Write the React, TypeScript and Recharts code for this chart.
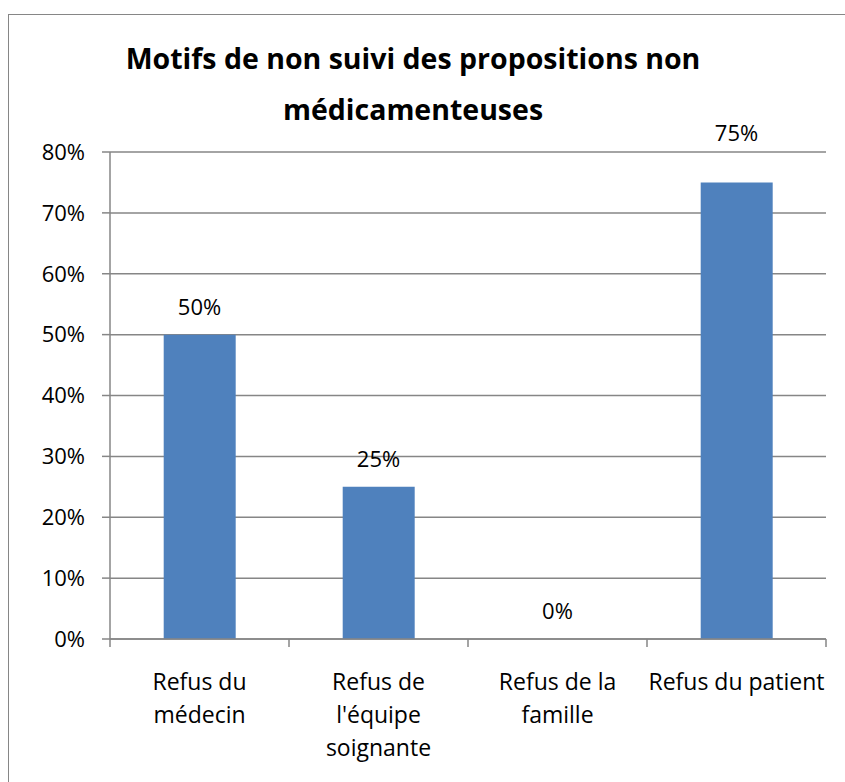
import React from 'react';
import {
  ComposedChart,
  Bar,
  Line,
  XAxis,
  YAxis,
  CartesianGrid,
  LabelList,
} from 'recharts';

// chart data
const CATEGORIES = ['Refus du médecin', "Refus de l'équipe soignante", 'Refus de la famille', 'Refus du patient'];
const CATEGORY_LINES = [['Refus du', 'médecin'], ['Refus de', "l'équipe", 'soignante'], ['Refus de la', 'famille'], ['Refus du patient']];
const VALUES = [50, 25, 0, 75];
const Y_TICKS = [0, 10, 20, 30, 40, 50, 60, 70, 80];
const TITLE_LINES = ['Motifs de non suivi des propositions non', 'médicamenteuses'];

// the last label sits higher in the original
const LABEL_LIFT = [20, 20, 20, 41];

const FONT = '"Open Sans", "Noto Sans", sans-serif';
const GRAY = '#868686';
const BLUE = '#4F81BD';

const data = CATEGORIES.map((name, i) => ({ name, value: VALUES[i] }));

const CategoryTick = (props: any) => {
  const { x, y, payload, index } = props;
  const half = payload?.offset || 89.5;
  const lines: string[] = CATEGORY_LINES[index] || [String(payload.value)];
  const top = y - 10; // y arrives shifted by tickSize + tickMargin
  return (
    <g>
      <line x1={x - half} y1={top} x2={x - half} y2={top + 8} stroke={GRAY} strokeWidth={1.5} />
      {index === CATEGORIES.length - 1 && (
        <line x1={x + half} y1={top} x2={x + half} y2={top + 8} stroke={GRAY} strokeWidth={1.5} />
      )}
      <text x={x} textAnchor="middle" fontFamily={FONT} fontSize={23} fill="#000">
        {lines.map((l, i) => (
          <tspan key={i} x={x} y={top + 51 + i * 33}>{l}</tspan>
        ))}
      </text>
    </g>
  );
};

const ValueLabel = (props: any) => {
  const { x, y, value, index } = props;
  return (
    <text
      x={x}
      y={y - LABEL_LIFT[index]}
      textAnchor="middle"
      fontFamily={FONT}
      fontSize={22}
      fill="#000"
    >
      {`${value}%`}
    </text>
  );
};

export default function App() {
  return (
    <div style={{ position: 'absolute', left: 0, top: 0, width: 845, height: 782, background: '#fff', overflow: 'hidden' }}>
      <div
        style={{
          position: 'absolute',
          left: 8,
          top: 14,
          width: 845,
          height: 782,
          border: `1.5px solid ${GRAY}`,
          boxSizing: 'border-box',
        }}
      />
      <svg width={845} height={140} style={{ position: 'absolute', left: 0, top: 0 }}>
        {TITLE_LINES.map((t, i) => (
          <text
            key={i}
            x={413}
            y={69 + i * 51}
            textAnchor="middle"
            fontFamily={FONT}
            fontWeight="bold"
            fontSize={28.5}
            fill="#000"
          >
            {t}
          </text>
        ))}
      </svg>
      <div style={{ position: 'absolute', left: 0, top: 0 }}>
        <ComposedChart
          width={845}
          height={782}
          data={data}
          margin={{ top: 152, right: 19, bottom: 0, left: 0 }}
          barCategoryGap="30%"
        >
          <CartesianGrid vertical={false} stroke={GRAY} strokeWidth={1.5} />
          <XAxis
            dataKey="name"
            height={143}
            axisLine={{ stroke: GRAY, strokeWidth: 1.5 }}
            tickLine={false}
            tickSize={8}
            interval={0}
            tick={<CategoryTick />}
          />
          <YAxis
            width={110}
            domain={[0, 80]}
            ticks={Y_TICKS}
            interval={0}
            tickFormatter={(v: number) => `${v}%`}
            axisLine={{ stroke: GRAY, strokeWidth: 1.5 }}
            tickLine={{ stroke: GRAY, strokeWidth: 1.5 }}
            tickSize={8}
            tickMargin={17}
            tick={{ fill: '#000', fontFamily: FONT, fontSize: 22 }}
          />
          <Bar dataKey="value" fill={BLUE} isAnimationActive={false} />
          {/* invisible line only used to place the value labels (also for the 0% one) */}
          <Line
            dataKey="value"
            stroke="none"
            dot={false}
            activeDot={false}
            legendType="none"
            isAnimationActive={false}
          >
            <LabelList dataKey="value" content={<ValueLabel />} />
          </Line>
        </ComposedChart>
      </div>
    </div>
  );
}
